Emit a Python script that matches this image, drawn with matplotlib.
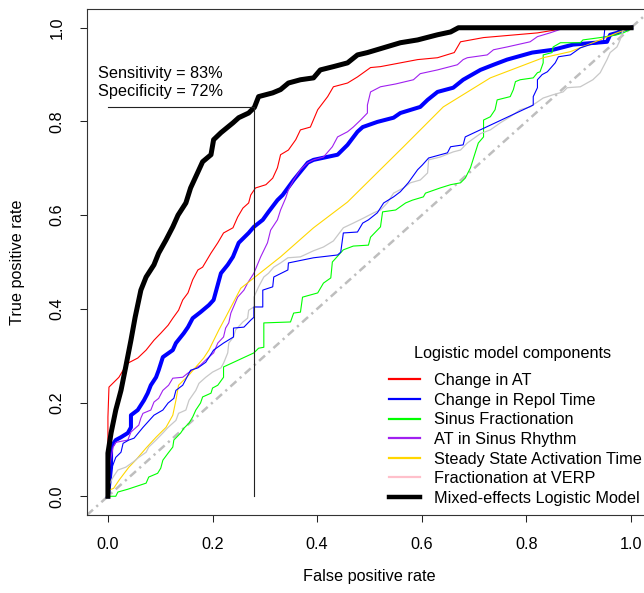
import matplotlib
matplotlib.use("Agg")
import matplotlib.pyplot as plt
from matplotlib.lines import Line2D

plt.rcParams['font.family'] = ['Liberation Sans', 'DejaVu Sans']
FS = 11.7

# ---- ROC curves (false positive rate, true positive rate) ----
mixed_fpr = [0, 0, 0.006, 0.015, 0.025, 0.034, 0.044, 0.052, 0.059, 0.063, 0.073, 0.088, 0.097,
             0.111, 0.124, 0.134, 0.149, 0.158, 0.172, 0.181, 0.197, 0.202, 0.216, 0.239, 0.250,
             0.269, 0.28, 0.288, 0.315, 0.330, 0.345, 0.368, 0.393, 0.406, 0.431, 0.458, 0.477,
             0.496, 0.559, 0.592, 0.630, 0.655, 0.670, 1.0]
mixed_tpr = [0, 0.092, 0.135, 0.184, 0.226, 0.276, 0.333, 0.382, 0.419, 0.440, 0.468, 0.494, 0.519,
             0.547, 0.575, 0.600, 0.626, 0.658, 0.692, 0.714, 0.729, 0.761, 0.776, 0.797, 0.808,
             0.818, 0.83, 0.853, 0.861, 0.868, 0.882, 0.889, 0.893, 0.910, 0.917, 0.925, 0.942,
             0.947, 0.968, 0.974, 0.985, 0.991, 1.0, 1.0]

at_change_fpr = [0, 0, 0, 0.002, 0.021, 0.029, 0.038, 0.057, 0.073, 0.088, 0.101, 0.115, 0.124,
                 0.135, 0.143, 0.153, 0.162, 0.172, 0.181, 0.197, 0.210, 0.221, 0.239, 0.248,
                 0.258, 0.269, 0.273, 0.282, 0.302, 0.315, 0.324, 0.330, 0.345, 0.359, 0.368,
                 0.387, 0.401, 0.420, 0.431, 0.458, 0.477, 0.502, 0.521, 0.592, 0.630, 0.662,
                 0.674, 0.718, 0.821, 0.870, 1.0]
at_change_tpr = [0, 0.120, 0.169, 0.233, 0.254, 0.269, 0.284, 0.295, 0.312, 0.333, 0.348, 0.365,
                 0.380, 0.397, 0.419, 0.434, 0.462, 0.483, 0.489, 0.519, 0.541, 0.562, 0.573,
                 0.596, 0.615, 0.626, 0.643, 0.658, 0.665, 0.679, 0.701, 0.729, 0.739, 0.761,
                 0.782, 0.788, 0.825, 0.853, 0.874, 0.882, 0.895, 0.915, 0.917, 0.932, 0.936,
                 0.947, 0.970, 0.979, 0.989, 0.998, 1.0]

repol_bold_fpr = [0, 0.006, 0.006, 0.015, 0.025, 0.038, 0.044, 0.044, 0.057, 0.069, 0.076, 0.082,
                  0.092, 0.097, 0.105, 0.124, 0.130, 0.145, 0.153, 0.162, 0.177, 0.193, 0.202,
                  0.216, 0.229, 0.239, 0.250, 0.269, 0.279, 0.296, 0.307, 0.324, 0.334, 0.355,
                  0.382, 0.393, 0.439, 0.458, 0.477, 0.487, 0.515, 0.546, 0.559, 0.597, 0.611,
                  0.630, 0.660, 0.679, 0.712, 0.737, 0.763, 0.811, 0.851, 0.889, 0.954, 0.960,
                  0.973, 0.985, 1.0]
repol_bold_tpr = [0, 0.062, 0.105, 0.120, 0.126, 0.135, 0.147, 0.173, 0.184, 0.205, 0.220, 0.237,
                  0.254, 0.269, 0.297, 0.312, 0.327, 0.348, 0.361, 0.380, 0.393, 0.408, 0.419,
                  0.476, 0.494, 0.511, 0.541, 0.562, 0.575, 0.590, 0.607, 0.632, 0.643, 0.675,
                  0.712, 0.718, 0.729, 0.750, 0.778, 0.788, 0.799, 0.808, 0.818, 0.831, 0.846,
                  0.863, 0.872, 0.889, 0.910, 0.921, 0.932, 0.947, 0.953, 0.964, 0.970, 0.985,
                  0.989, 0.996, 1.0]

repol_fpr = [0, 0, 0.006, 0.015, 0.025, 0.029, 0.040, 0.050, 0.067, 0.088, 0.105, 0.115, 0.126,
             0.130, 0.143, 0.158, 0.172, 0.187, 0.202, 0.221, 0.240, 0.240, 0.260, 0.273, 0.279,
             0.279, 0.296, 0.296, 0.315, 0.317, 0.344, 0.345, 0.393, 0.439, 0.445, 0.450, 0.477,
             0.487, 0.498, 0.515, 0.527, 0.546, 0.559, 0.574, 0.592, 0.601, 0.613, 0.649, 0.655,
             0.679, 0.683, 0.813, 0.813, 0.821, 0.821, 0.830, 0.840, 0.855, 0.861, 0.884, 0.903,
             0.922, 0.947, 0.950, 1.0]
repol_tpr = [0, 0.034, 0.056, 0.083, 0.094, 0.113, 0.120, 0.124, 0.147, 0.173, 0.184, 0.199, 0.209,
             0.226, 0.237, 0.269, 0.274, 0.286, 0.312, 0.327, 0.340, 0.359, 0.361, 0.376, 0.382,
             0.404, 0.404, 0.440, 0.447, 0.468, 0.483, 0.498, 0.509, 0.515, 0.521, 0.562, 0.564,
             0.583, 0.590, 0.605, 0.626, 0.639, 0.650, 0.669, 0.697, 0.707, 0.722, 0.733, 0.746,
             0.750, 0.767, 0.835, 0.853, 0.872, 0.889, 0.900, 0.906, 0.925, 0.938, 0.942, 0.957,
             0.964, 0.968, 1.0, 1.0]

sinus_frac_fpr = [0, 0.015, 0.019, 0.038, 0.073, 0.078, 0.095, 0.101, 0.105, 0.115, 0.124, 0.126,
                  0.139, 0.145, 0.155, 0.162, 0.168, 0.177, 0.181, 0.197, 0.200, 0.210, 0.221,
                  0.221, 0.279, 0.288, 0.298, 0.298, 0.349, 0.355, 0.368, 0.372, 0.401, 0.412,
                  0.426, 0.429, 0.450, 0.469, 0.498, 0.502, 0.521, 0.525, 0.550, 0.569, 0.582,
                  0.603, 0.607, 0.635, 0.655, 0.674, 0.683, 0.693, 0.702, 0.708, 0.718, 0.718,
                  0.731, 0.740, 0.744, 0.769, 0.775, 0.779, 0.788, 0.813, 0.821, 0.826, 0.832,
                  0.832, 0.849, 0.851, 0.865, 0.903, 0.908, 0.941, 0.973, 0.985, 0.998, 1.0]
sinus_frac_tpr = [0, 0, 0.009, 0.015, 0.028, 0.041, 0.049, 0.060, 0.077, 0.092, 0.105, 0.120,
                  0.135, 0.145, 0.156, 0.169, 0.184, 0.199, 0.212, 0.220, 0.231, 0.237, 0.254,
                  0.276, 0.306, 0.316, 0.318, 0.370, 0.372, 0.391, 0.393, 0.425, 0.434, 0.455,
                  0.466, 0.500, 0.526, 0.534, 0.536, 0.553, 0.575, 0.607, 0.611, 0.626, 0.632,
                  0.639, 0.647, 0.658, 0.665, 0.669, 0.679, 0.701, 0.733, 0.754, 0.767, 0.803,
                  0.810, 0.825, 0.846, 0.853, 0.868, 0.885, 0.889, 0.893, 0.904, 0.906, 0.925,
                  0.942, 0.947, 0.959, 0.968, 0.968, 0.974, 0.979, 0.985, 0.989, 0.996, 1.0]

at_sinus_fpr = [0, 0.002, 0.006, 0.010, 0.015, 0.038, 0.044, 0.059, 0.063, 0.067, 0.082, 0.088,
                0.097, 0.105, 0.116, 0.124, 0.143, 0.153, 0.168, 0.177, 0.191, 0.202, 0.210,
                0.221, 0.225, 0.231, 0.235, 0.240, 0.248, 0.260, 0.267, 0.279, 0.292, 0.305,
                0.311, 0.324, 0.330, 0.340, 0.345, 0.355, 0.368, 0.382, 0.393, 0.412, 0.429,
                0.439, 0.458, 0.469, 0.483, 0.496, 0.496, 0.502, 0.521, 0.550, 0.584, 0.597,
                0.630, 0.668, 0.679, 0.687, 0.725, 0.737, 0.763, 0.807, 0.821, 0.845, 0.874, 1.0]
at_sinus_tpr = [0, 0.056, 0.083, 0.105, 0.115, 0.120, 0.137, 0.152, 0.167, 0.177, 0.184, 0.201,
                0.209, 0.226, 0.237, 0.252, 0.254, 0.263, 0.274, 0.280, 0.295, 0.306, 0.327,
                0.340, 0.359, 0.370, 0.391, 0.404, 0.425, 0.440, 0.455, 0.476, 0.511, 0.541,
                0.568, 0.590, 0.611, 0.637, 0.654, 0.675, 0.697, 0.712, 0.718, 0.724, 0.746,
                0.767, 0.778, 0.788, 0.803, 0.818, 0.835, 0.863, 0.874, 0.880, 0.889, 0.902,
                0.910, 0.921, 0.932, 0.936, 0.942, 0.953, 0.959, 0.970, 0.981, 0.989, 1.0, 1.0]

steady_fpr = [0, 0.002, 0.011, 0.021, 0.040, 0.053, 0.073, 0.092, 0.111, 0.124, 0.130, 0.135,
              0.155, 0.183, 0.193, 0.212, 0.225, 0.239, 0.254, 0.279, 0.330, 0.393, 0.458, 0.565,
              0.641, 0.731, 0.832, 0.884, 0.927, 0.973, 1.0]
steady_tpr = [0, 0.013, 0.017, 0.034, 0.062, 0.077, 0.103, 0.126, 0.147, 0.173, 0.205, 0.237,
              0.259, 0.295, 0.312, 0.355, 0.382, 0.412, 0.444, 0.466, 0.511, 0.573, 0.628, 0.746,
              0.831, 0.893, 0.936, 0.949, 0.968, 0.989, 1.0]

verp_frac_fpr = [0, 0.002, 0.010, 0.019, 0.034, 0.048, 0.059, 0.073, 0.078, 0.092, 0.105, 0.115,
                 0.130, 0.135, 0.149, 0.155, 0.168, 0.174, 0.187, 0.200, 0.216, 0.221, 0.229,
                 0.231, 0.240, 0.244, 0.258, 0.267, 0.269, 0.279, 0.279, 0.288, 0.298, 0.307,
                 0.317, 0.330, 0.344, 0.368, 0.393, 0.412, 0.431, 0.450, 0.469, 0.489, 0.508,
                 0.521, 0.534, 0.546, 0.565, 0.578, 0.597, 0.611, 0.613, 0.635, 0.660, 0.674,
                 0.687, 0.712, 0.731, 0.750, 0.769, 0.788, 0.807, 0.832, 0.851, 0.870, 0.878,
                 0.903, 0.927, 0.941, 0.947, 0.954, 0.960, 0.973, 0.979, 0.985, 1.0]
verp_frac_tpr = [0, 0.024, 0.041, 0.056, 0.062, 0.073, 0.083, 0.094, 0.105, 0.120, 0.135, 0.147,
                 0.162, 0.177, 0.184, 0.205, 0.226, 0.241, 0.254, 0.265, 0.274, 0.284, 0.306,
                 0.327, 0.340, 0.355, 0.372, 0.380, 0.397, 0.404, 0.425, 0.447, 0.468, 0.476,
                 0.489, 0.498, 0.509, 0.511, 0.524, 0.532, 0.545, 0.573, 0.583, 0.594, 0.605,
                 0.611, 0.626, 0.647, 0.658, 0.669, 0.675, 0.690, 0.718, 0.724, 0.735, 0.739,
                 0.754, 0.774, 0.782, 0.797, 0.810, 0.825, 0.831, 0.850, 0.857, 0.863, 0.872,
                 0.874, 0.889, 0.904, 0.917, 0.932, 0.947, 0.959, 0.974, 0.996, 1.0]

# Chosen operating point of the mixed-effects model
sensitivity_pct = 83
specificity_pct = 72

legend_labels = ["Change in AT", "Change in Repol Time", "Sinus Fractionation",
                 "AT in Sinus Rhythm", "Steady State Activation Time",
                 "Fractionation at VERP", "Mixed-effects Logistic Model"]
legend_colors = ["#FF0000", "#0000FF", "#00FF00", "#A020F0", "#FFD700", "#FFC0CB", "#000000"]
legend_title = "Logistic model components"

# ---- figure ----
fig = plt.figure(figsize=(6.44, 5.93), dpi=100)
ax = fig.add_axes([87 / 644, 78 / 593, 565 / 644, 506 / 593])
ax.set_xlim(-0.04, 1.04)
ax.set_ylim(-0.04, 1.04)

ax.axline((0, 0), (1, 1), color="#BEBEBE", lw=1.8,
          linestyle=(0, (3.2, 1.8, 0.9, 1.8)), zorder=1)

ax.plot(at_change_fpr, at_change_tpr, color="#FF0000", lw=0.8, zorder=2)
ax.plot(repol_bold_fpr, repol_bold_tpr, color="#0000FF", lw=2.9, zorder=2,
        solid_joinstyle="round")
ax.plot(sinus_frac_fpr, sinus_frac_tpr, color="#00FF00", lw=0.8, zorder=2)
ax.plot(at_sinus_fpr, at_sinus_tpr, color="#A020F0", lw=0.8, zorder=2)
ax.plot(steady_fpr, steady_tpr, color="#FFD700", lw=0.8, zorder=2)
ax.plot(verp_frac_fpr, verp_frac_tpr, color="#C8C8C8", lw=0.9, zorder=2)
ax.plot(repol_fpr, repol_tpr, color="#0000FF", lw=0.8, zorder=2)
ax.plot(mixed_fpr, mixed_tpr, color="#000000", lw=3.6, zorder=3,
        solid_joinstyle="round")

# operating point guide lines
op_fpr = 1 - specificity_pct / 100
op_tpr = sensitivity_pct / 100
ax.plot([0, op_fpr], [op_tpr, op_tpr], color="#222222", lw=0.8, zorder=4)
ax.plot([op_fpr, op_fpr], [0, op_tpr], color="#222222", lw=0.8, zorder=4)
ax.text(-0.019, 0.903, f"Sensitivity = {sensitivity_pct}%", fontsize=FS,
        ha="left", va="center")
ax.text(-0.019, 0.864, f"Specificity = {specificity_pct}%", fontsize=FS,
        ha="left", va="center")

# legend
handles = [Line2D([], [], color=c, lw=(3.2 if c == "#000000" else 1.6))
           for c in legend_colors]
ax.text(0.754, 0.320, legend_title, transform=ax.transAxes, fontsize=FS,
        ha="center", va="center")
ax.legend(handles, legend_labels, loc="upper left", bbox_to_anchor=(0.5345, 0.2806),
          frameon=False, fontsize=FS, handlelength=1.9, handletextpad=0.86,
          labelspacing=0.285, borderpad=0, borderaxespad=0)

# axes styling
ticks = [0.0, 0.2, 0.4, 0.6, 0.8, 1.0]
ax.set_xticks(ticks)
ax.set_yticks(ticks)
ax.set_xticklabels([f"{t:.1f}" for t in ticks])
ax.set_yticklabels([f"{t:.1f}" for t in ticks], rotation=90, va="center")
ax.tick_params(direction="out", length=5, width=0.75, pad=11, labelsize=FS,
               colors="#222222", labelcolor="black")
for s in ax.spines.values():
    s.set_linewidth(0.8)
    s.set_color("#333333")

fig.text(369.5 / 644, 1 - 577 / 593, "False positive rate", fontsize=FS,
         ha="center", va="center")
fig.text(18 / 644, 1 - 262 / 593, "True positive rate", fontsize=FS,
         ha="center", va="center", rotation=90)

fig.savefig("out.png", dpi=100)
